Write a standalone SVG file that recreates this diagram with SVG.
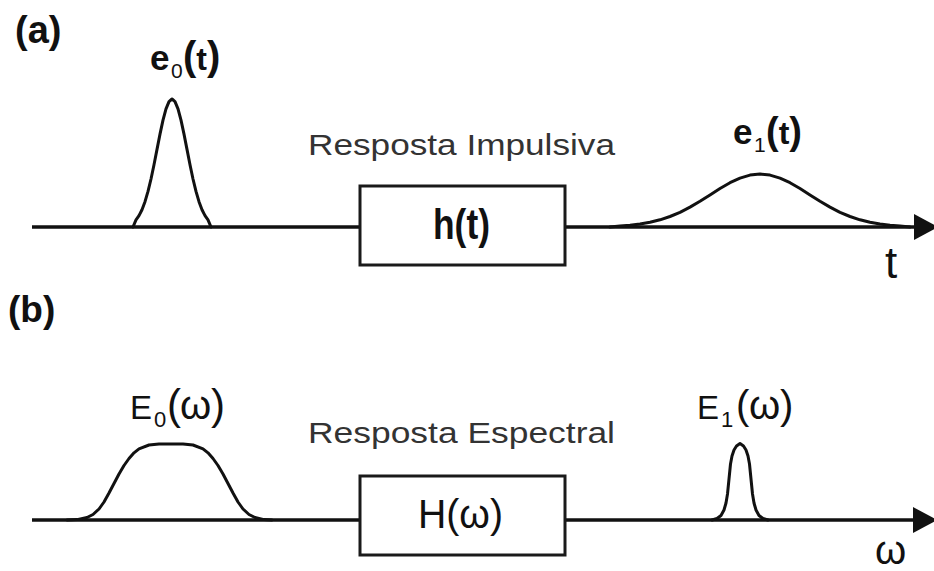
<svg xmlns="http://www.w3.org/2000/svg" width="934" height="571" viewBox="0 0 934 571">
  <style>
    .axis { stroke: #111; stroke-width: 3.5; fill: none; }
    .box { stroke: #1a1a1a; stroke-width: 3; fill: #fff; }
    .pulse { stroke: #111; stroke-width: 3; fill: none; stroke-linejoin: round; stroke-linecap: round; }
    text { font-family: "Liberation Sans", Arial, sans-serif; fill: #111; }
    .bold { font-weight: bold; }
    .sub { font-weight: normal; }
    .caption { fill: #333; }
  </style>
  <defs>
    <marker id="arrow" markerUnits="userSpaceOnUse" markerWidth="24" markerHeight="26" refX="0" refY="13" orient="auto">
      <path d="M0,0 L24,13 L0,26 Z" fill="#111"/>
    </marker>
  </defs>

  <rect width="934" height="571" fill="#fff"/>

  <!-- axis segments -->
  <g id="connectors">
    <line class="axis" x1="32" y1="227" x2="360" y2="227"/>
    <line class="axis" x1="565" y1="227" x2="914" y2="227" marker-end="url(#arrow)"/>
    <line class="axis" x1="32" y1="520" x2="360" y2="520"/>
    <line class="axis" x1="565" y1="520" x2="913" y2="520" marker-end="url(#arrow)"/>
  </g>

  <!-- panel (a): time domain -->
  <text class="bold" x="15" y="43" font-size="38">(a)</text>

  <g id="pulse-e0">
    <polyline class="pulse" points="133,227 136,219.8 139,215.6 142,209.7 145,201.7 148,191.4 151,179 154,164.7 157,149.4 160,134.1 163,120.1 166,108.8 169,101.6 172,99 175,101.6 178,108.8 181,120.1 184,134.1 187,149.4 190,164.7 193,179 196,191.4 199,201.7 202,209.7 205,215.6 208,219.8 211,227"/>
    <text class="bold" y="70"><tspan x="150" font-size="35">e</tspan><tspan class="sub" x="171" y="78" font-size="21">0</tspan><tspan x="183" y="70" font-size="40">(</tspan><tspan font-size="32">t</tspan><tspan font-size="40">)</tspan></text>
  </g>

  <g id="node-h">
    <text class="caption" x="308" y="155" font-size="30" textLength="307" lengthAdjust="spacingAndGlyphs">Resposta Impulsiva</text>
    <rect class="box" x="360" y="186" width="205" height="79"/>
    <text class="bold" x="433" y="239" font-size="42" textLength="57" lengthAdjust="spacingAndGlyphs">h(t)</text>
  </g>

  <g id="pulse-e1">
    <polyline class="pulse" points="610,227 620,226 630,225.2 640,224 650,222.3 660,219.8 670,216.5 680,212.3 690,207.1 700,201.2 710,194.9 720,188.5 730,182.7 740,178.1 750,175.1 760,174 770,175.1 780,178.1 790,182.7 800,188.5 810,194.9 820,201.2 830,207.1 840,212.3 850,216.5 860,219.8 870,222.3 880,224 890,225.2 900,226 910,227"/>
    <text class="bold" y="144"><tspan x="733" font-size="35">e</tspan><tspan class="sub" x="754" y="152" font-size="21">1</tspan><tspan x="766" y="144" font-size="38">(</tspan><tspan font-size="32">t</tspan><tspan font-size="38">)</tspan></text>
  </g>

  <text x="885" y="278" font-size="44">t</text>

  <!-- panel (b): frequency domain -->
  <text class="bold" x="8" y="322" font-size="37">(b)</text>

  <g id="pulse-E0">
    <polyline class="pulse" points="67,520 77,519.6 87,517.5 93,514.5 99,509 104,502 109,493 114,483.5 119,474 124,465.5 129,458.5 134,452.8 139,448.8 149,445 159,444 171,444 183,444 193,445 203,448.8 208,452.8 213,458.5 218,465.5 223,474 228,483.5 233,493 238,502 243,509 249,514.5 255,517.5 264,519.6 272,520"/>
    <text y="419"><tspan x="130" font-size="33">E</tspan><tspan x="154" y="427" font-size="22">0</tspan><tspan x="167" y="419" font-size="42">(</tspan><tspan x="180" font-size="40">ω</tspan><tspan x="211" font-size="42">)</tspan></text>
  </g>

  <g id="node-H">
    <text class="caption" x="308" y="443" font-size="29" textLength="307" lengthAdjust="spacingAndGlyphs">Resposta Espectral</text>
    <rect class="box" x="360" y="476" width="205" height="79"/>
    <text x="418" y="528" font-size="40" textLength="85" lengthAdjust="spacingAndGlyphs">H(ω)</text>
  </g>

  <g id="pulse-E1">
    <polyline class="pulse" points="712,520 717,518.5 721,515.5 724,510 726,503 727.5,494 729,479 730.5,464 732,456 734,450 736.5,446 740,443.5 743.5,446 746,450 748,456 749.5,464 751,479 752.5,494 754,503 756,510 759,515.5 763,518.5 768,520"/>
    <text y="419"><tspan x="697" font-size="33">E</tspan><tspan x="721" y="427" font-size="22">1</tspan><tspan x="736" y="419" font-size="40">(</tspan><tspan x="749" font-size="40">ω</tspan><tspan x="780" font-size="40">)</tspan></text>
  </g>

  <text x="875" y="564" font-size="40">ω</text>
</svg>
